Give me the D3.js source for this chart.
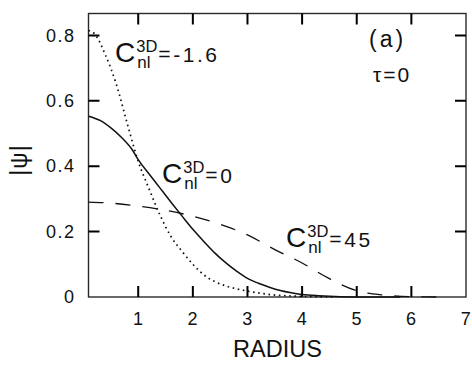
<!DOCTYPE html>
<html>
<head>
<meta charset="utf-8">
<script src="https://cdn.jsdelivr.net/npm/d3@7"></script>
<style>
  body { margin: 0; background: #fff; }
  text { font-family: "Liberation Sans", Arial, sans-serif; fill: #111; }
</style>
</head>
<body>
<div class="viz"></div>
<script>
// values: |psi| vs radius for three C_nl^3D values
var radiusSolid = [0.09, 0.3, 0.5, 0.7, 0.9, 1.0, 1.2, 1.4, 1.6, 1.8, 2.0, 2.2, 2.4, 2.6, 2.8, 3.0, 3.2, 3.4, 3.6, 3.8, 4.0, 4.3, 4.7, 5.2, 5.8];
var psiSolid = [0.553, 0.54, 0.517, 0.487, 0.448, 0.42, 0.376, 0.333, 0.29, 0.248, 0.207, 0.17, 0.135, 0.105, 0.079, 0.057, 0.042, 0.03, 0.02, 0.013, 0.008, 0.004, 0.001, 0, 0];

var radiusDotted = [0.09, 0.2, 0.4, 0.6, 0.8, 1.0, 1.2, 1.4, 1.6, 1.8, 2.0, 2.2, 2.4, 2.6, 2.8, 3.0, 3.25, 3.5, 3.8, 4.2, 4.6];
var psiDotted = [0.815, 0.805, 0.74, 0.65, 0.53, 0.415, 0.33, 0.25, 0.185, 0.14, 0.1, 0.068, 0.047, 0.034, 0.025, 0.018, 0.011, 0.006, 0.003, 0.001, 0];

var radiusDashed = [0.09, 0.5, 1.0, 1.5, 2.0, 2.5, 3.0, 3.5, 4.0, 4.5, 5.0, 5.5, 6.0, 6.5];
var psiDashed = [0.29, 0.287, 0.278, 0.265, 0.247, 0.222, 0.19, 0.145, 0.104, 0.056, 0.019, 0.006, 0.001, 0];

var xTicks = [1, 2, 3, 4, 5, 6, 7];
var yTicks = [0, 0.2, 0.4, 0.6, 0.8];

var curveLabels = [
  { x: 115, y: 62, value: "-1.6" },
  { x: 162, y: 183, value: "0" },
  { x: 286, y: 247, value: "45" }
];

var margin = { top: 13.5, right: 6, bottom: 68, left: 88.5 },
  W = 472,
  H = 365,
  width = W - margin.left - margin.right,
  height = H - margin.top - margin.bottom;

var svg = d3.select(".viz").append("svg").attr("width", W).attr("height", H);

var x = d3.scaleLinear().domain([0.09, 7]).range([0, width]);
var y = d3.scaleLinear().domain([0, 0.867]).range([height, 0]);

var g = svg.append("g").attr("transform", "translate(" + margin.left + "," + margin.top + ")");

// frame
g.append("rect")
  .attr("width", width)
  .attr("height", height)
  .attr("fill", "none")
  .attr("stroke", "#2a2a2a")
  .attr("stroke-width", 1.4);

// tick labels through the axes
var xAxisB = d3.axisBottom(x).tickValues(xTicks).tickSize(0).tickPadding(15).tickFormat(d3.format("d"));
var yAxisL = d3.axisLeft(y).tickValues(yTicks).tickSize(0).tickPadding(13)
  .tickFormat(function (d) { return d === 0 ? "0" : d3.format(".1f")(d); });

function styleAxis(sel) {
  sel.select(".domain").remove();
  sel.selectAll(".tick text")
    .style("font-family", "Liberation Sans, Arial, sans-serif")
    .style("font-size", "18px")
    .style("letter-spacing", "1.5px")
    .attr("fill", "#111");
}

g.append("g").attr("transform", "translate(0," + height + ")").call(xAxisB).call(styleAxis);
g.append("g").call(yAxisL).call(styleAxis);

// inward tick marks on all four sides, as one path
var tickLen = 11;
var tickPath = d3.path();
xTicks.slice(0, 6).forEach(function (t) {
  tickPath.moveTo(x(t), height); tickPath.lineTo(x(t), height - tickLen);
  tickPath.moveTo(x(t), 0); tickPath.lineTo(x(t), tickLen);
});
yTicks.slice(1).forEach(function (t) {
  tickPath.moveTo(0, y(t)); tickPath.lineTo(tickLen, y(t));
  tickPath.moveTo(width, y(t)); tickPath.lineTo(width - tickLen, y(t));
});
g.append("path")
  .attr("d", tickPath.toString())
  .attr("fill", "none")
  .style("stroke", "#000")
  .style("stroke-width", "2px");

// curves
var line = d3.line()
  .x(function (d) { return x(d[0]); })
  .y(function (d) { return y(d[1]); })
  .curve(d3.curveMonotoneX);

var series = [
  { r: radiusDotted, v: psiDotted, dash: "1.6,3.6", w: 1.7 },
  { r: radiusDashed, v: psiDashed, dash: "15,12", w: 1.3 },
  { r: radiusSolid, v: psiSolid, dash: null, w: 1.5 }
];

series.forEach(function (s) {
  g.append("path")
    .datum(d3.zip(s.r, s.v))
    .attr("d", line)
    .attr("fill", "none")
    .attr("stroke", "#111")
    .attr("stroke-width", s.w)
    .attr("stroke-dasharray", s.dash);
});

// C_nl^3D labels, each as one text with tspans
function textWidth(str, size) {
  var t = svg.append("text").style("font-size", size).text(str);
  var w = t.node().getComputedTextLength();
  t.remove();
  return w;
}
curveLabels.forEach(function (d) {
  var cw = textWidth("C", "28px");
  var sw = textWidth("3D", "16.5px");
  var ex = d.x + cw + sw + 2;
  var t = svg.append("text");
  t.append("tspan").attr("x", d.x).attr("y", d.y).style("font-size", "28px").text("C");
  t.append("tspan").attr("x", d.x + cw + 1).attr("y", d.y - 10).style("font-size", "16.5px").text("3D");
  t.append("tspan").attr("x", d.x + cw + 2).attr("y", d.y + 5.5).style("font-size", "17px").text("nl");
  t.append("tspan").attr("x", ex).attr("y", d.y - 1).style("font-size", "21px").text("=");
  t.append("tspan").attr("x", ex + 15).attr("y", d.y).style("font-size", "21px").style("letter-spacing", "2.5px").text(d.value);
});

svg.append("text").attr("x", 369).attr("y", 47).style("font-size", "23px").style("letter-spacing", "3px").text("(a)");
svg.append("text").attr("x", 373).attr("y", 82).style("font-size", "21px").style("letter-spacing", "2px").text("τ=0");

// axis titles
svg.append("text")
  .attr("x", margin.left + x(3.55))
  .attr("y", 357)
  .attr("text-anchor", "middle")
  .style("font-size", "23.5px")
  .text("RADIUS");

svg.append("text")
  .attr("transform", "translate(27,160) rotate(-90)")
  .attr("text-anchor", "middle")
  .style("font-size", "23px")
  .style("letter-spacing", "1px")
  .text("|ψ|");
</script>
</body>
</html>
